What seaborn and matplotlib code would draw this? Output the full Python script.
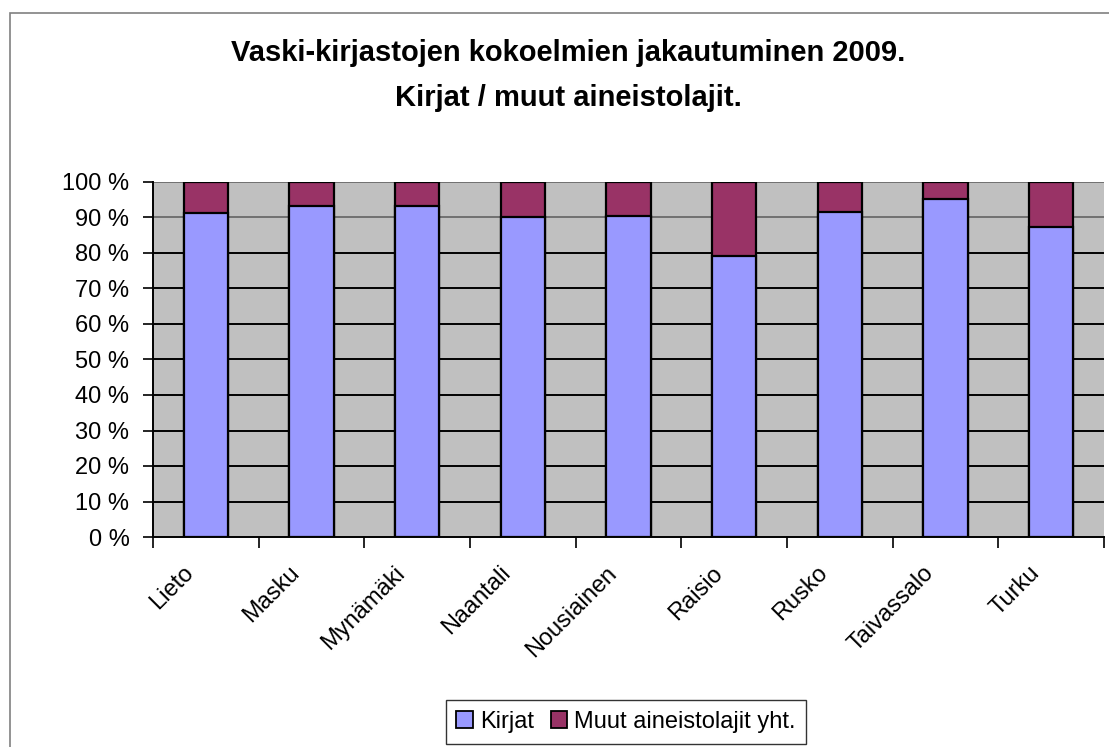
import matplotlib
matplotlib.use("Agg")
import matplotlib.pyplot as plt
import seaborn as sns
import pandas as pd
import numpy as np
from matplotlib.patches import Rectangle, Patch
from matplotlib.transforms import ScaledTranslation, blended_transform_factory

categories = ["Lieto", "Masku", "Mynämäki", "Naantali", "Nousiainen",
              "Raisio", "Rusko", "Taivassalo", "Turku"]
kirjat = [91.2, 93.3, 93.3, 90.0, 90.5, 79.2, 91.5, 95.1, 87.3]
muut = [8.8, 6.7, 6.7, 10.0, 9.5, 20.8, 8.5, 4.9, 12.7]
yticks = [0, 10, 20, 30, 40, 50, 60, 70, 80, 90, 100]
ytick_labels = [f"{v} %" for v in yticks]
title_lines = ["Vaski-kirjastojen kokoelmien jakautuminen 2009.",
               "Kirjat / muut aineistolajit."]
series_names = ["Kirjat", "Muut aineistolajit yht."]

sns.set_style("white")
plt.rcParams['font.family'] = ['Liberation Sans', 'DejaVu Sans']
plt.rcParams['text.color'] = 'black'
plt.rcParams['xtick.color'] = 'black'
plt.rcParams['ytick.color'] = 'black'

c_blue = "#9999FF"
c_maroon = "#993366"

df = pd.DataFrame({"cat": categories, "kirjat": kirjat,
                   "total": np.array(kirjat) + np.array(muut)})

fig = plt.figure(figsize=(11.09, 7.47), dpi=100)
fig.patch.set_facecolor("white")
fig.patches.append(Rectangle((10/1109, -0.05), 1.2, 1 - 13/747 + 0.05,
                             transform=fig.transFigure, fill=False,
                             edgecolor="#808080", linewidth=1.2))

ax = fig.add_axes([153/1109, 1 - 537/747, (1104 - 153)/1109, (537 - 182)/747])
ax.set_facecolor("#C0C0C0")

sns.barplot(data=df, x="cat", y="total", color=c_maroon, saturation=1,
            width=0.42, edgecolor="black", linewidth=1.6, ax=ax, zorder=3)
sns.barplot(data=df, x="cat", y="kirjat", color=c_blue, saturation=1,
            width=0.42, edgecolor="black", linewidth=1.6, ax=ax, zorder=4)

ax.set_xlim(-0.5, len(categories) - 0.5)
ax.set_ylim(0, 100)
ax.set_yticks(yticks)
ax.set_yticklabels(ytick_labels, fontsize=17)
for v in yticks[1:]:
    ax.axhline(v, color="black" if v < 90 else "#707070", linewidth=1.4, zorder=1)

# category labels (rotated), positioned by category index in data coords
ax.set_xticks(range(len(categories)))
ax.set_xticklabels([""] * len(categories))
ax.tick_params(axis="x", which="major", length=0)
base = blended_transform_factory(ax.transData, ax.transAxes)
offset = ScaledTranslation(-23/100, -25/100, fig.dpi_scale_trans)
for i, name in enumerate(categories):
    ax.text(i, 0, name, transform=base + offset, rotation=45,
            ha="right", va="top", rotation_mode="anchor", fontsize=17,
            color="black", clip_on=False)

ax.set_xticks(np.arange(-0.5, len(categories), 1), minor=True)
ax.tick_params(axis="x", which="minor", bottom=True, length=8, width=1.2,
               color="black", direction="out")
ax.tick_params(axis="y", length=7, width=1.2, color="black", direction="out", left=True, pad=10)
ax.set_xlabel("")
ax.set_ylabel("")

for s in ["top", "right"]:
    ax.spines[s].set_visible(False)
ax.spines["left"].set_color("black")
ax.spines["bottom"].set_color("black")
ax.spines["left"].set_linewidth(1.4)
ax.spines["bottom"].set_linewidth(1.4)

fig.text(568/1109, 1 - 53/747, title_lines[0],
         ha="center", va="center", fontsize=21, fontweight="bold")
fig.text(568/1109, 1 - 98/747, title_lines[1],
         ha="center", va="center", fontsize=21, fontweight="bold")

handles = [Patch(facecolor=c_blue, edgecolor="black", linewidth=1.3),
           Patch(facecolor=c_maroon, edgecolor="black", linewidth=1.3)]
leg = fig.legend(handles, series_names, loc="center", bbox_to_anchor=(626/1109, 1 - 722/747),
                 ncol=2, fontsize=17, frameon=True, fancybox=False,
                 handlelength=0.7, handleheight=0.7, handletextpad=0.3,
                 columnspacing=0.7, borderpad=0.45)
leg.get_frame().set_edgecolor("black")
leg.get_frame().set_linewidth(1.0)

fig.savefig("out.png", dpi=100)
